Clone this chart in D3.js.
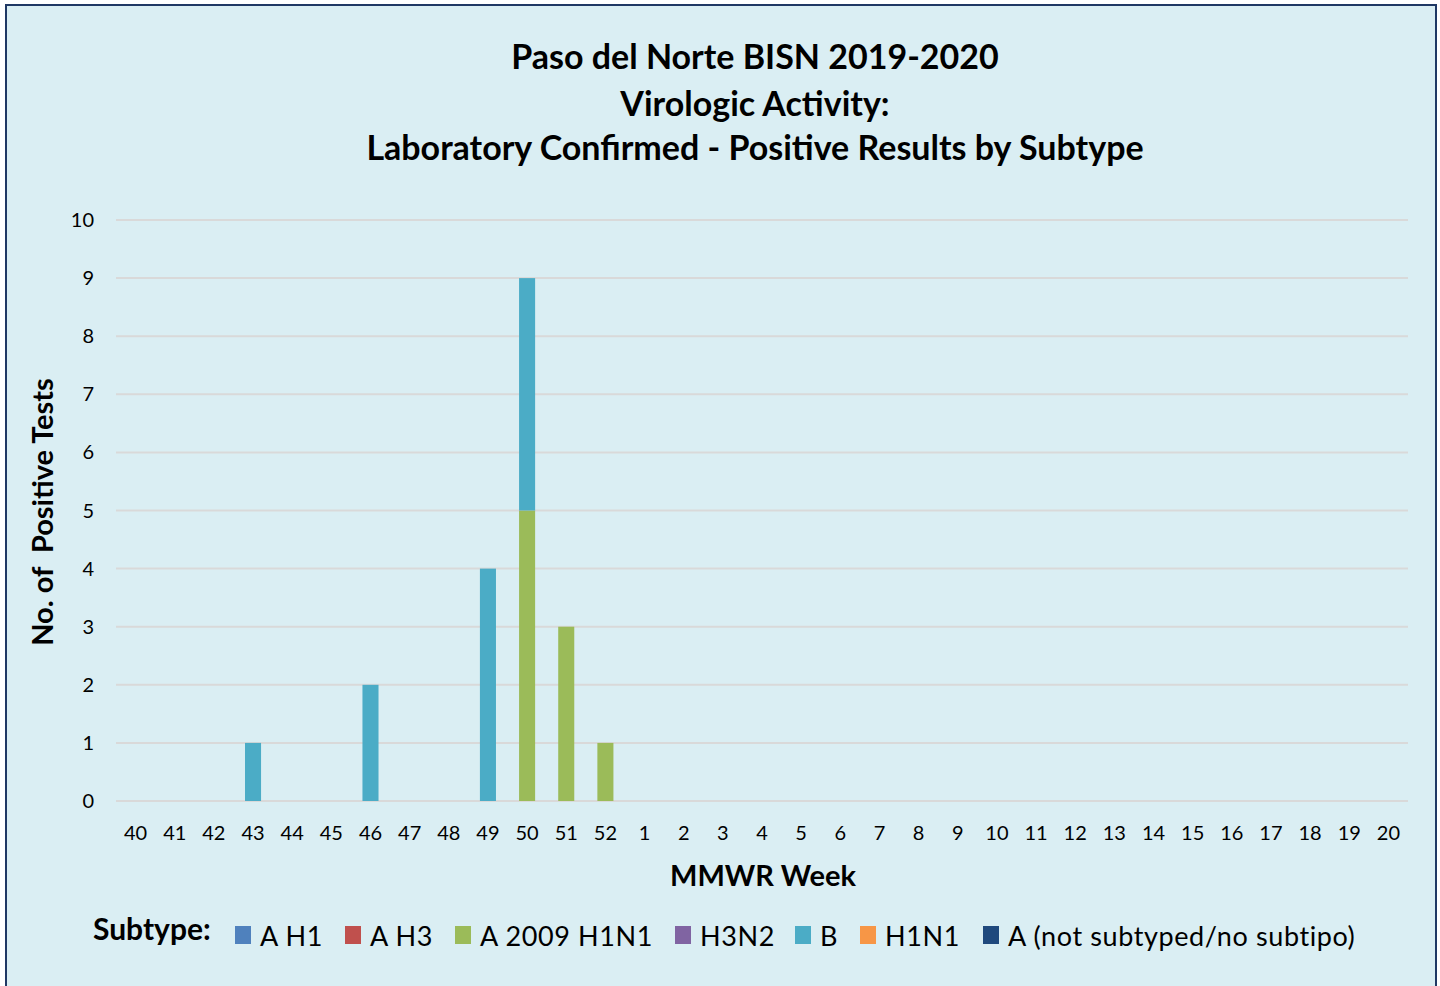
<!DOCTYPE html>
<html>
<head>
<meta charset="utf-8">
<script src="https://cdn.jsdelivr.net/npm/d3@7"></script>
<style>
  body { margin: 0; background: #fff; }
  text { font-family: Lato, "Open Sans", sans-serif; }
</style>
</head>
<body>
<svg width="1440" height="986"></svg>
<script>
let weeks = ['40','41','42','43','44','45','46','47','48','49','50','51','52',
  '1','2','3','4','5','6','7','8','9','10','11','12','13','14','15','16','17','18','19','20'];

let subtypes = ['A H1', 'A H3', 'A 2009 H1N1', 'H3N2', 'B', 'H1N1', 'A (not subtyped/no subtipo)'];
let colors = ['#4F81BD', '#C0504D', '#9BBB59', '#8064A2', '#4BACC6', '#F79646', '#1F497D'];

// counts per week, same order as weeks
let aH1     = [0,0,0,0,0,0,0,0,0,0,0,0,0, 0,0,0,0,0,0,0,0,0,0,0,0,0,0,0,0,0,0,0,0];
let aH3     = [0,0,0,0,0,0,0,0,0,0,0,0,0, 0,0,0,0,0,0,0,0,0,0,0,0,0,0,0,0,0,0,0,0];
let a2009   = [0,0,0,0,0,0,0,0,0,0,5,3,1, 0,0,0,0,0,0,0,0,0,0,0,0,0,0,0,0,0,0,0,0];
let h3n2    = [0,0,0,0,0,0,0,0,0,0,0,0,0, 0,0,0,0,0,0,0,0,0,0,0,0,0,0,0,0,0,0,0,0];
let b       = [0,0,0,1,0,0,2,0,0,4,4,0,0, 0,0,0,0,0,0,0,0,0,0,0,0,0,0,0,0,0,0,0,0];
let h1n1    = [0,0,0,0,0,0,0,0,0,0,0,0,0, 0,0,0,0,0,0,0,0,0,0,0,0,0,0,0,0,0,0,0,0];
let aNot    = [0,0,0,0,0,0,0,0,0,0,0,0,0, 0,0,0,0,0,0,0,0,0,0,0,0,0,0,0,0,0,0,0,0];
let series = [aH1, aH3, a2009, h3n2, b, h1n1, aNot];

let yTicks = [0,1,2,3,4,5,6,7,8,9,10];

let svg = d3.select('svg');

// frame
svg.append('rect')
    .attr('x', 6).attr('y', 5)
    .attr('width', 1430).attr('height', 990)
    .attr('fill', '#DAEEF3')
    .attr('stroke', '#1F3864')
    .attr('stroke-width', 2);

let margin = {left: 116, right: 1408, top: 220, bottom: 801};

let x = d3.scaleBand()
    .domain(weeks)
    .range([margin.left, margin.right])
    .paddingInner(0.59)
    .paddingOuter(0.295);

let y = d3.scaleLinear()
    .domain([0, 10])
    .range([margin.bottom, margin.top]);

// grid
svg.append('g')
  .selectAll('line')
  .data(yTicks)
  .join('line')
    .attr('x1', margin.left).attr('x2', margin.right)
    .attr('y1', (d) => y(d)).attr('y2', (d) => y(d))
    .attr('stroke', '#D9D9D9')
    .attr('stroke-width', 2);

// y tick labels
svg.append('g')
  .selectAll('text')
  .data(yTicks)
  .join('text')
    .attr('x', 94)
    .attr('y', (d) => y(d))
    .attr('dy', '.35em')
    .attr('text-anchor', 'end')
    .attr('font-size', 20)
    .attr('fill', '#000')
    .text((d) => d);

// x tick labels
svg.append('g')
  .selectAll('text')
  .data(weeks)
  .join('text')
    .attr('x', (d) => x(d) + x.bandwidth() / 2)
    .attr('y', 840)
    .attr('text-anchor', 'middle')
    .attr('font-size', 20)
    .attr('fill', '#000')
    .text((d) => d);

// stacked bars
let table = weeks.map((w, i) => {
  let row = {week: w};
  subtypes.forEach((s, j) => { row[s] = series[j][i]; });
  return row;
});
let stacked = d3.stack().keys(subtypes)(table);

svg.append('g')
  .selectAll('g')
  .data(stacked)
  .join('g')
    .attr('fill', (d, i) => colors[i])
  .selectAll('rect')
  .data((d) => d.filter((p) => p[1] - p[0] > 0))
  .join('rect')
    .attr('x', (d) => x(d.data.week))
    .attr('width', x.bandwidth())
    .attr('y', (d) => y(d[1]))
    .attr('height', (d) => y(d[0]) - y(d[1]));

// titles
let titles = ['Paso del Norte BISN 2019-2020', 'Virologic Activity:',
  'Laboratory Confirmed - Positive Results by Subtype'];
svg.append('g')
  .selectAll('text')
  .data(titles)
  .join('text')
    .attr('x', 755)
    .attr('y', (d, i) => [69, 116, 160][i])
    .attr('text-anchor', 'middle')
    .attr('font-size', 34)
    .attr('font-weight', 'bold')
    .attr('fill', '#000')
    .text((d) => d);

svg.append('text')
    .attr('transform', 'translate(53, 512) rotate(-90)')
    .attr('text-anchor', 'middle')
    .attr('font-size', 29)
    .attr('font-weight', 'bold')
    .attr('xml:space', 'preserve')
    .style('white-space', 'pre')
    .text('No. of  Positive Tests');

svg.append('text')
    .attr('x', 763).attr('y', 886)
    .attr('text-anchor', 'middle')
    .attr('font-size', 29)
    .attr('font-weight', 'bold')
    .text('MMWR Week');

// legend
svg.append('text')
    .attr('x', 93).attr('y', 940)
    .attr('font-size', 30)
    .attr('font-weight', 'bold')
    .text('Subtype:');

let legendX = [235, 345, 455, 675, 795, 860, 983];
let legend = svg.append('g')
  .selectAll('g')
  .data(subtypes)
  .join('g')
    .attr('transform', (d, i) => `translate(${legendX[i]}, 926)`);
legend.append('rect')
    .attr('width', 16).attr('height', 18)
    .attr('fill', (d, i) => colors[i]);
legend.append('text')
    .attr('x', 25).attr('y', 20)
    .attr('font-size', 27)
    .attr('letter-spacing', 0.6)
    .text((d) => d);
</script>
</body>
</html>
